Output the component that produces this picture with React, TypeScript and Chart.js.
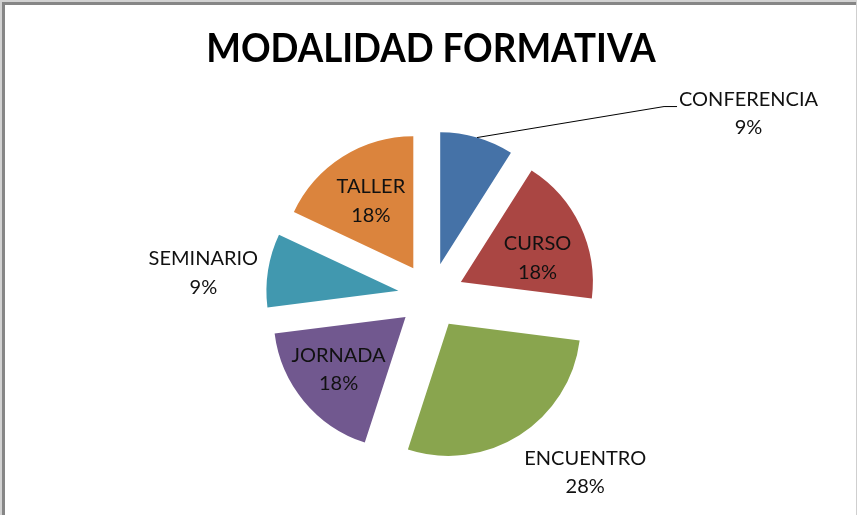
import React, { useEffect, useRef } from 'react';
import { Chart, registerables } from 'chart.js';

Chart.register(...registerables);

// ---- data ----
const chartTitle = 'MODALIDAD FORMATIVA';
const categories = ['CONFERENCIA', 'CURSO', 'ENCUENTRO', 'JORNADA', 'SEMINARIO', 'TALLER'];
const percentages = [9, 18, 28, 18, 9, 18];
const sliceColors = ['#4572A7', '#AA4643', '#89A54E', '#71588F', '#4198AF', '#DB843D'];
const labelModes = ['callout', 'inside', 'outside', 'inside', 'outside', 'inside'];
// fine placement nudges for the data labels (px)
const labelNudges: [number, number][] = [
  [187, -31],
  [5, 10],
  [34, -13],
  [-6, 2],
  [-6, 12],
  [0, 0],
];

const EXPLODE = 33;
const RADIUS = 132;
const FONT = 'Lato, "Open Sans", "DejaVu Sans", sans-serif';
const W = 858;
const H = 515;

const framePlugin = {
  id: 'frame',
  beforeDraw(chart: any) {
    const ctx = chart.ctx;
    ctx.save();
    ctx.fillStyle = '#ffffff';
    ctx.fillRect(0, 0, chart.width, chart.height);
    ctx.fillStyle = '#d2d2d2';
    ctx.fillRect(0, 0, chart.width - 1, 2);
    ctx.fillRect(0, 0, 2, chart.height);
    ctx.fillStyle = '#868686';
    ctx.fillRect(2, 2, chart.width - 3, 3);
    ctx.fillRect(2, 2, 3, chart.height);
    ctx.fillStyle = '#cfcfcf';
    ctx.fillRect(chart.width - 2, 2, 1, chart.height);
    ctx.restore();
  },
};

// title drawn slightly condensed (the original uses a narrow bold face)
const titlePlugin = {
  id: 'condensedTitle',
  afterDraw(chart: any) {
    const ctx = chart.ctx;
    const centerX = 431;
    const baseline = 62;
    const squeeze = 0.918;
    ctx.save();
    ctx.font = `bold 40px ${FONT}`;
    ctx.fillStyle = '#000000';
    ctx.textAlign = 'center';
    ctx.textBaseline = 'alphabetic';
    ctx.translate(centerX, baseline);
    ctx.scale(squeeze, 1);
    ctx.fillText(chartTitle, 0, 0);
    ctx.restore();
  },
};

const explodePlugin = {
  id: 'explode',
  beforeDatasetDraw(chart: any, args: any) {
    const ctx = chart.ctx;
    args.meta.data.forEach((el: any) => {
      const mid = (el.startAngle + el.endAngle) / 2;
      ctx.save();
      ctx.translate(Math.cos(mid) * EXPLODE, Math.sin(mid) * EXPLODE);
      el.draw(ctx);
      ctx.restore();
    });
    return false;
  },
};

const labelPlugin = {
  id: 'sliceLabels',
  afterDatasetsDraw(chart: any) {
    const ctx = chart.ctx;
    const meta = chart.getDatasetMeta(0);
    const values: number[] = chart.data.datasets[0].data;
    const total = values.reduce((a, b) => a + b, 0);
    const lineGap = 28.5;
    ctx.save();
    ctx.font = `20px ${FONT}`;
    ctx.fillStyle = '#111111';
    ctx.textAlign = 'center';
    ctx.textBaseline = 'middle';
    meta.data.forEach((el: any, i: number) => {
      const mid = (el.startAngle + el.endAngle) / 2;
      const ux = Math.cos(mid);
      const uy = Math.sin(mid);
      const tx = el.x + ux * EXPLODE;
      const ty = el.y + uy * EXPLODE;
      const r = el.outerRadius;
      const lines = [chart.data.labels[i], Math.round((values[i] / total) * 100) + '%'];
      const [nx, ny] = labelNudges[i];
      let cx = 0;
      let cy = 0;
      if (labelModes[i] === 'inside') {
        cx = tx + ux * r * 0.6 + nx;
        cy = ty + uy * r * 0.6 + ny;
      } else if (labelModes[i] === 'outside') {
        cx = tx + ux * r * 1.45 + nx;
        cy = ty + uy * r * 1.45 + ny;
      } else {
        const ax = tx + ux * r;
        const ay = ty + uy * r;
        const ex = ax + nx;
        const ey = ay + ny;
        ctx.beginPath();
        ctx.strokeStyle = '#000000';
        ctx.lineWidth = 1;
        ctx.moveTo(ax, ay);
        ctx.lineTo(ex, ey);
        ctx.lineTo(ex + 13, ey);
        ctx.stroke();
        const w = Math.max(...lines.map((s: string) => ctx.measureText(s).width));
        cx = ex + 15 + w / 2;
        cy = ey + 7;
      }
      ctx.fillText(lines[0], cx, cy - lineGap / 2);
      ctx.fillText(lines[1], cx, cy + lineGap / 2);
    });
    ctx.restore();
  },
};

export default function App() {
  const canvasRef = useRef<HTMLCanvasElement | null>(null);

  useEffect(() => {
    document.body.style.margin = '0';
    let chart: Chart | null = null;
    let cancelled = false;
    const make = () => {
      if (cancelled || !canvasRef.current) return;
      chart = new Chart(canvasRef.current, {
        type: 'pie',
        data: {
          labels: categories,
          datasets: [
            {
              data: percentages,
              backgroundColor: sliceColors,
              borderWidth: 0,
            },
          ],
        },
        options: {
          animation: false,
          responsive: false,
          devicePixelRatio: 1,
          radius: RADIUS,
          layout: { padding: { left: 4, right: 0, top: 77, bottom: 0 } },
          plugins: {
            legend: { display: false },
            tooltip: { enabled: false },
            title: { display: false },
          },
        } as any,
        plugins: [framePlugin, explodePlugin, labelPlugin, titlePlugin],
      });
    };
    const fonts = (document as any).fonts;
    if (fonts && fonts.load) {
      Promise.all([fonts.load(`bold 40px Lato`), fonts.load(`20px Lato`)])
        .catch(() => null)
        .then(make);
    } else {
      make();
    }
    return () => {
      cancelled = true;
      if (chart) chart.destroy();
    };
  }, []);

  return (
    <div style={{ width: W, height: H, position: 'relative' }}>
      <canvas ref={canvasRef} width={W} height={H} />
    </div>
  );
}
